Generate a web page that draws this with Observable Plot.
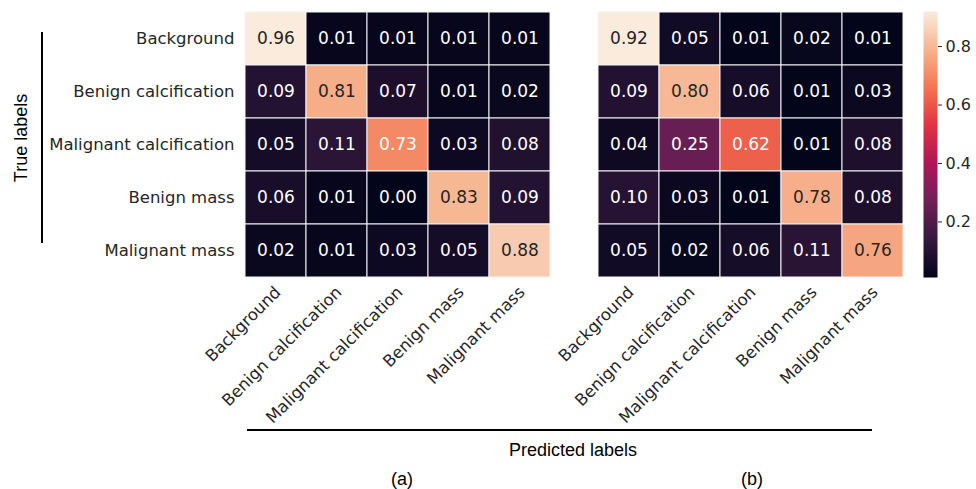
<!DOCTYPE html>
<html>
<head>
<meta charset="utf-8">
<script src="https://cdn.jsdelivr.net/npm/d3@7"></script>
<script src="https://cdn.jsdelivr.net/npm/@observablehq/plot@0.6"></script>
<style>
  html, body { margin: 0; padding: 0; background: #fff; }
  #wrap { position: relative; width: 976px; height: 489px; overflow: hidden; }
  #wrap > svg, #wrap > figure { position: absolute; left: 0; top: 0; margin: 0; }
</style>
</head>
<body>
<div id="wrap"></div>
<script>
// ---- data ----
const labels = ["Background", "Benign calcification", "Malignant calcification", "Benign mass", "Malignant mass"];
const matrixA = [
  [0.96, 0.01, 0.01, 0.01, 0.01],
  [0.09, 0.81, 0.07, 0.01, 0.02],
  [0.05, 0.11, 0.73, 0.03, 0.08],
  [0.06, 0.01, 0.00, 0.83, 0.09],
  [0.02, 0.01, 0.03, 0.05, 0.88]
];
const matrixB = [
  [0.92, 0.05, 0.01, 0.02, 0.01],
  [0.09, 0.80, 0.06, 0.01, 0.03],
  [0.04, 0.25, 0.62, 0.01, 0.08],
  [0.10, 0.03, 0.01, 0.78, 0.08],
  [0.05, 0.02, 0.06, 0.11, 0.76]
];
const colorbarTicks = [0.2, 0.4, 0.6, 0.8];
const axisTitleX = "Predicted labels";
const axisTitleY = "True labels";
const panelLabels = ["(a)", "(b)"];

// seaborn "rocket" colormap stops
const rocketStops = ["#03051a", "#35193e", "#701f57", "#ad1759", "#e13342", "#f37651", "#f6b48f", "#faebdd"];
const rocket = d3.piecewise(d3.interpolateRgb, rocketStops);

function toRows(m) {
  const out = [];
  m.forEach((row, i) => row.forEach((v, j) => out.push({t: labels[i], p: labels[j], v})));
  return out;
}
function luminance(c) {
  const rgb = d3.rgb(c);
  const f = x => { x /= 255; return x <= 0.03928 ? x / 12.92 : Math.pow((x + 0.055) / 1.055, 2.4); };
  return 0.2126 * f(rgb.r) + 0.7152 * f(rgb.g) + 0.0722 * f(rgb.b);
}

const W = 976, H = 489;
const plotTop = 11, plotBottom = 277;
const wrap = document.getElementById("wrap");
const baseStyle = {fontFamily: "'DejaVu Sans', sans-serif", fontSize: "16px", color: "#262626", background: "transparent", overflow: "visible"};

function heatmap(m, left, right, showY) {
  const data = toRows(m);
  const vals = m.flat();
  const lo = d3.min(vals), hi = d3.max(vals);
  const textFill = d => luminance(rocket((d.v - lo) / (hi - lo))) > 0.408 ? "#262626" : "#ffffff";
  return Plot.plot({
    width: W, height: H,
    marginLeft: left, marginRight: W - right, marginTop: plotTop, marginBottom: H - plotBottom,
    style: baseStyle,
    x: {type: "band", domain: labels, padding: 0, label: null},
    y: {type: "band", domain: labels, padding: 0, label: null, axis: showY ? undefined : null},
    color: {type: "linear", domain: [lo, hi], interpolate: rocket},
    marks: [
      Plot.cell(data, {x: "p", y: "t", fill: "v", stroke: "#f4f4f4", strokeWidth: 1, inset: 0}),
      Plot.text(data, {x: "p", y: "t", text: d => d.v.toFixed(2), fill: textFill, fontSize: 17}),
      Plot.axisX({anchor: "bottom", tickRotate: -45, tickSize: 0, tickPadding: 12, dx: 2, fontSize: 16.5, label: null}),
      showY ? Plot.axisY({anchor: "left", tickSize: 0, tickPadding: 10, fontSize: 16.5, label: null}) : null
    ]
  });
}

wrap.appendChild(heatmap(matrixA, 244, 550, true));
wrap.appendChild(heatmap(matrixB, 598, 903, false));

// colorbar for panel (b)
{
  const vals = matrixB.flat();
  const lo = d3.min(vals), hi = d3.max(vals);
  const cb = Plot.plot({
    width: W, height: H,
    marginLeft: 923, marginRight: W - 937, marginTop: plotTop, marginBottom: H - plotBottom,
    style: baseStyle,
    x: {domain: [0, 1], axis: null},
    y: {domain: [lo, hi], label: null},
    color: {type: "linear", domain: [lo, hi], interpolate: rocket},
    marks: [
      Plot.raster({x1: 0, x2: 1, y1: lo, y2: hi, width: 1, height: 266, fill: (x, y) => y, interpolate: "none", imageRendering: "auto"}),
      Plot.axisY({anchor: "right", ticks: colorbarTicks, tickFormat: d3.format(".1f"), tickSize: 4, tickPadding: 4, fontSize: 16, label: null})
    ]
  });
  wrap.appendChild(cb);
}

// annotation overlay (axis titles, brackets, panel labels)
{
  const svg = d3.select(wrap).append("svg")
    .attr("width", W).attr("height", H)
    .style("font-family", "'Liberation Sans', Arial, sans-serif")
    .style("overflow", "visible");
  svg.append("line").attr("x1", 42).attr("x2", 42).attr("y1", 32).attr("y2", 243)
    .attr("stroke", "#000").attr("stroke-width", 2);
  svg.append("text").attr("transform", "translate(27,138) rotate(-90)")
    .attr("text-anchor", "middle").attr("font-size", 18).attr("fill", "#000").text(axisTitleY);
  svg.append("line").attr("x1", 247).attr("x2", 872).attr("y1", 430).attr("y2", 430)
    .attr("stroke", "#000").attr("stroke-width", 2);
  svg.append("text").attr("x", 573).attr("y", 456)
    .attr("text-anchor", "middle").attr("font-size", 18).attr("fill", "#000").text(axisTitleX);
  svg.append("text").attr("x", 402).attr("y", 485)
    .attr("text-anchor", "middle").attr("font-size", 18).attr("fill", "#000").text(panelLabels[0]);
  svg.append("text").attr("x", 752).attr("y", 485)
    .attr("text-anchor", "middle").attr("font-size", 18).attr("fill", "#000").text(panelLabels[1]);
}
</script>
</body>
</html>
